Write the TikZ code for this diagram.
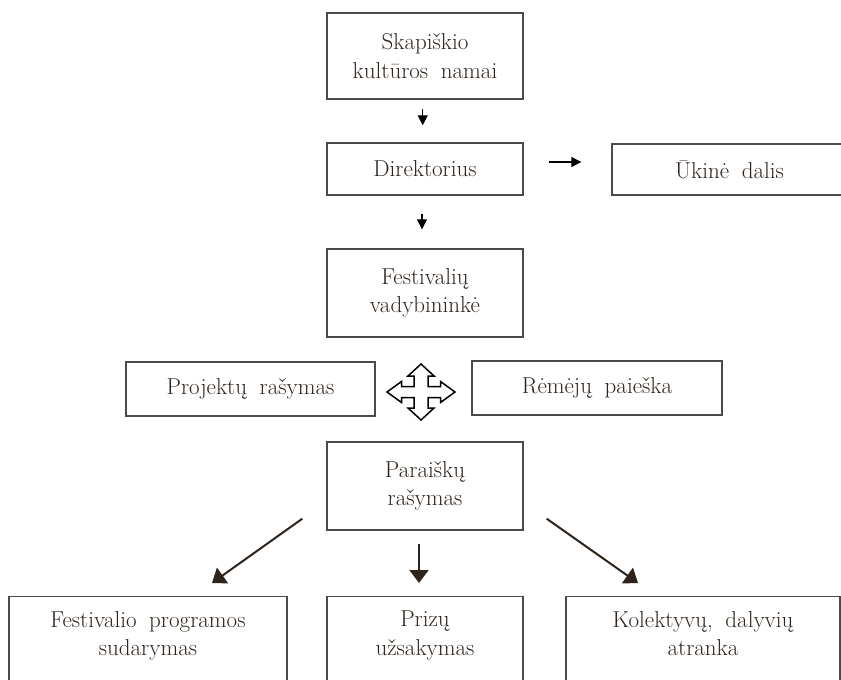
\documentclass[tikz,border=0pt]{standalone}
\usepackage{fontspec}
\usetikzlibrary{arrows.meta,calc}
\definecolor{ink}{HTML}{2E241C}
\definecolor{frame}{HTML}{4A4A4A}
\newcommand\wsp{\hspace{0.55em}}
\begin{document}
\begin{tikzpicture}[x=1pt,y=-1pt,
  txt/.style={inner sep=0pt,align=center,font=\fontsize{23}{28.5}\selectfont,text=ink},
  box/.style={txt,draw=frame,line width=1.4pt},
  sarr/.style={draw=black,line width=1.3pt,-{Triangle[length=10pt,width=10pt]}},
  barr/.style={draw=ink,line width=2pt,-{Triangle[length=13pt,width=19pt]}}
]
\useasboundingbox (0,0) rectangle (841,680);

\node[box,minimum width=196pt,minimum height=86pt] (top) at (425,56) {Skapiškio\\kultūros\wsp namai};
\node[box,minimum width=196pt,minimum height=52pt] (dir) at (425,169) {Direktorius};
\node[box,minimum width=235pt,minimum height=51pt] (uk) at (729.5,169.5) {Ūkinė\wsp dalis};
\node[box,minimum width=196pt,minimum height=88pt] (fest) at (425,293) {Festivalių\\vadybininkė};
\node[box,minimum width=249pt,minimum height=54pt] (proj) at (250.5,389) {Projektų\wsp rašymas};
\node[box,minimum width=250pt,minimum height=54pt] (rem) at (597,388) {Rėmėjų\wsp paieška};
\node[box,minimum width=196pt,minimum height=88pt] (par) at (425,486) {Paraiškų\\rašymas};

\node[box,anchor=north,minimum width=278pt,minimum height=140pt] (b1) at (148,596) {};
\node[box,anchor=north,minimum width=196pt,minimum height=140pt] (b2) at (425,596) {};
\node[box,anchor=north,minimum width=274pt,minimum height=140pt] (b3) at (703,596) {};
\node[txt,anchor=north] (t1) at (148,611) {Festivalio\wsp programos\\sudarymas};
\node[txt,anchor=north] (t2) at (425,611) {Prizų\\užsakymas};
\node[txt,anchor=north] (t3) at (703,611) {Kolektyvų,\wsp dalyvių\\atranka};

% quad arrow
\coordinate (quad) at (421,392);
\begin{scope}[shift={(quad)}]
\draw[line width=1.5pt,fill=white,line join=miter]
 (0,-28) -- (13,-16) -- (7,-16) -- (7,-5.5) -- (19.5,-5.5) -- (19.5,-10.5) -- (34,0)
 -- (19.5,10.5) -- (19.5,5.5) -- (7,5.5) -- (7,16) -- (13,16) -- (0,28)
 -- (-13,16) -- (-7,16) -- (-7,5.5) -- (-19.5,5.5) -- (-19.5,10.5) -- (-34,0)
 -- (-19.5,-10.5) -- (-19.5,-5.5) -- (-7,-5.5) -- (-7,-16) -- (-13,-16) -- cycle;
\end{scope}

% small arrows
\draw[sarr,shorten <=9pt,shorten >=17pt] ([xshift=-2.3pt]top.south) -- ([xshift=-2.3pt]dir.north);
\draw[sarr,shorten <=18pt,shorten >=19pt] ([xshift=-3pt]dir.south) -- ([xshift=-3pt]fest.north);
\draw[sarr,shorten <=25pt,shorten >=30pt] ([yshift=7pt]dir.east) -- ([yshift=7pt]dir.east -| uk.west);

% big arrows
\draw[barr] ($(par.south west)+(-24,-12)$) -- ($(b1.north)+(64,-13)$);
\draw[barr] ($(par.south)+(-6,13)$) -- ($(b2.north)+(-6,-13)$);
\draw[barr] ($(par.south east)+(23,-12)$) -- ($(b3.north)+(-65,-13)$);
\end{tikzpicture}
\end{document}
